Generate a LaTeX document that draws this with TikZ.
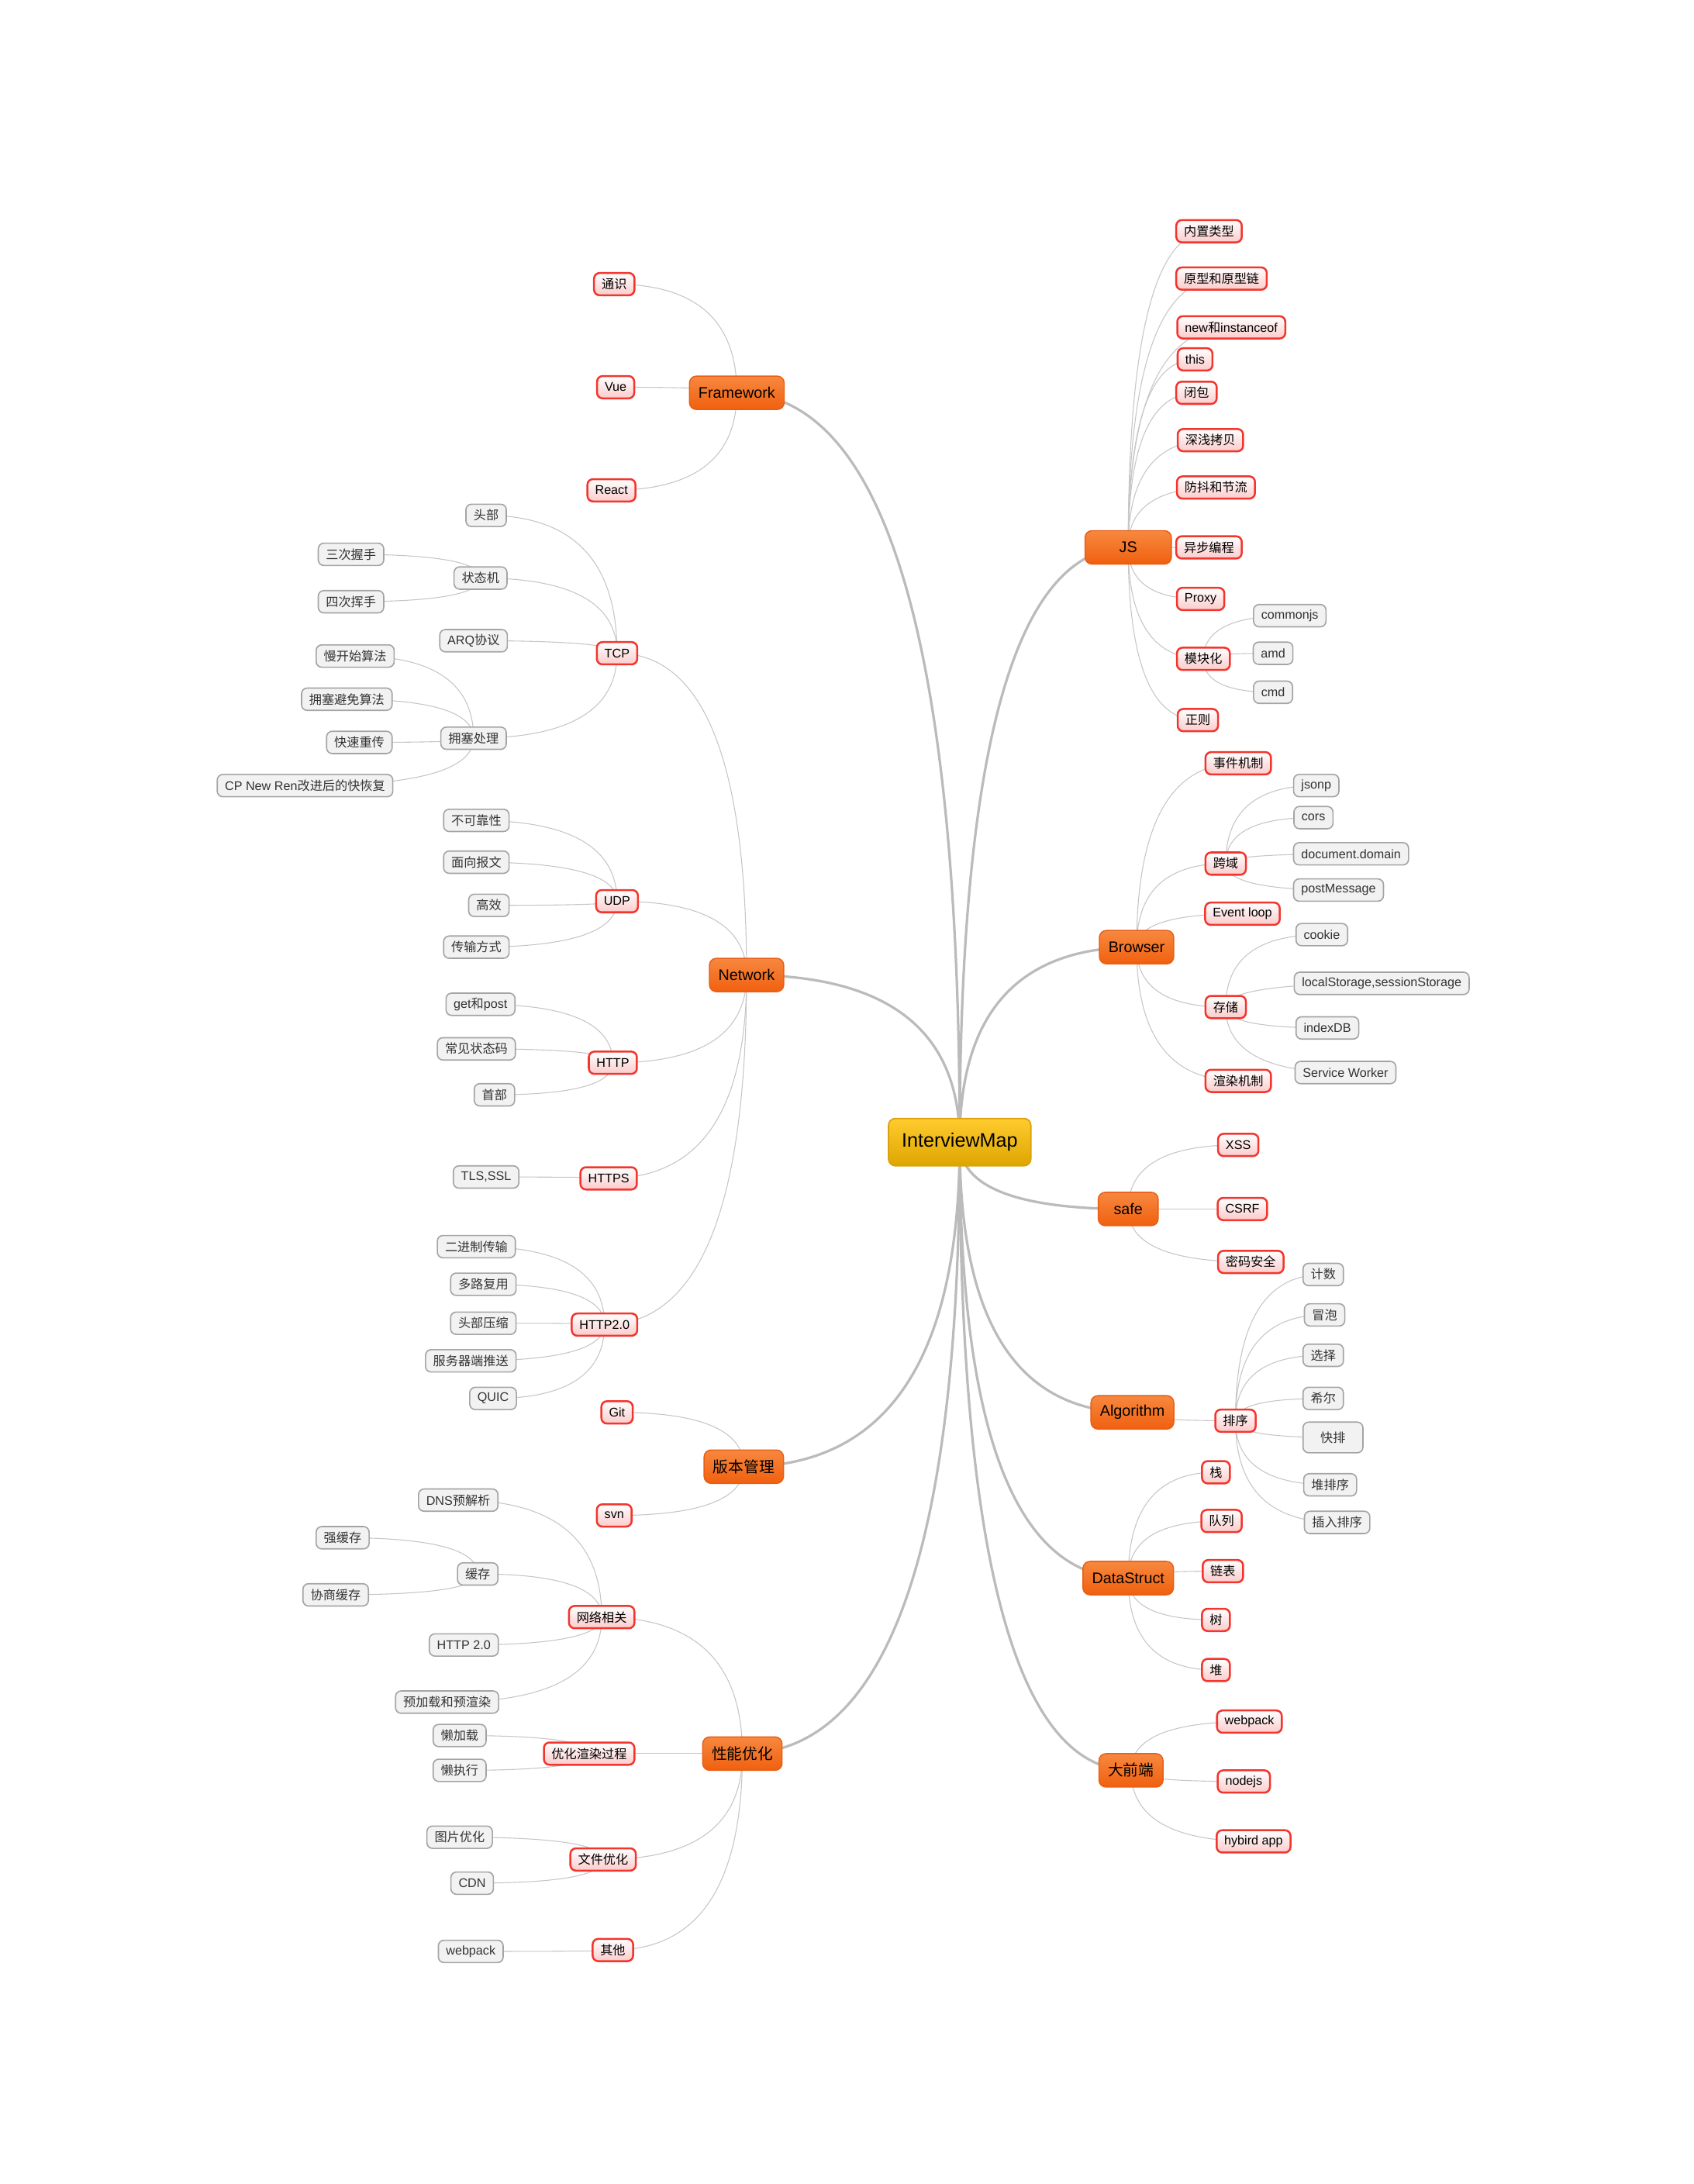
\documentclass[tikz,border=0pt]{standalone}
\usepackage{fontspec}
\setmainfont{Liberation Sans}
\newfontfamily\cjk{Noto Sans CJK SC}
\newcommand{\zh}[1]{{\cjk #1}}
\usetikzlibrary{backgrounds,calc}

\definecolor{roottop}{HTML}{FFCC2E}
\definecolor{rootbot}{HTML}{DDA500}
\definecolor{rootline}{HTML}{D9A20C}
\definecolor{topictop}{HTML}{F7883F}
\definecolor{topicbot}{HTML}{F0600F}
\definecolor{topicline}{HTML}{E85E14}
\definecolor{subline}{HTML}{F2362E}
\definecolor{subfill}{HTML}{FBCBCB}
\definecolor{leafline}{HTML}{A4A4A4}
\definecolor{leaffill}{HTML}{F2F2F2}
\definecolor{leaftext}{HTML}{333333}
\definecolor{trunkgray}{HTML}{BBBBBB}
\definecolor{twiggray}{HTML}{C6C6C6}

\tikzset{
  root/.style={draw=rootline, line width=1pt, rounded corners=5pt, top color=roottop, bottom color=rootbot, minimum height=34pt, inner xsep=9.5pt, font=\fontsize{14}{16}\selectfont},
  topic/.style={draw=topicline, line width=0.8pt, rounded corners=5pt, top color=topictop, bottom color=topicbot, minimum height=24pt, inner xsep=6.5pt, inner ysep=0pt, font=\fontsize{11}{13}\selectfont},
  sub/.style={draw=subline, line width=1.4pt, rounded corners=4pt, top color=white, bottom color=subfill, minimum height=16pt, inner xsep=5.5pt, inner ysep=0pt, font=\fontsize{9}{11}\selectfont},
  leaf/.style={draw=leafline, line width=0.9pt, rounded corners=4pt, fill=leaffill, text=leaftext, minimum height=16pt, inner xsep=5.5pt, inner ysep=0pt, font=\fontsize{9}{11}\selectfont},
  trunk/.style={draw=trunkgray, line width=1.8pt},
  twig/.style={draw=twiggray, line width=0.6pt},
  curvy/.style={to path={.. controls ($(\tikztostart)!2/3!(\tikztostart |- \tikztotarget)$)
      and ($(\tikztotarget.center)!2/3!(\tikztostart |- \tikztotarget)$) .. (\tikztotarget.center)}}
}

\begin{document}
\begin{tikzpicture}[x=1pt,y=-1pt]
\useasboundingbox (0,0) rectangle (1216,1568);
% centre
\node[root] (root) at (689,820) {InterviewMap};
% main topics
\node[topic] (fw) at (529,282) {Framework};
\node[topic, minimum width=62pt] (js) at (810,393) {JS};
\node[topic] (net) at (536,700) {Network};
\node[topic] (br) at (816,680) {Browser};
\node[topic, minimum width=43pt] (safe) at (810,868) {safe};
\node[topic] (algo) at (813,1014) {Algorithm};
\node[topic] (ver) at (534,1053) {\zh{版本管理}};
\node[topic] (ds) at (810,1133) {DataStruct};
\node[topic] (perf) at (533,1259) {\zh{性能优化}};
\node[topic] (fe) at (812,1271) {\zh{大前端}};
% Framework
\node[sub] (tongshi) at (441,204) {\zh{通识}};
\node[sub] (vue) at (442,278) {Vue};
\node[sub] (react) at (439,352) {React};
% JS
\node[sub] (neizhi) at (868,166) {\zh{内置类型}};
\node[sub] (yuanxing) at (877,200) {\zh{原型和原型链}};
\node[sub] (newinst) at (884,235) {new\zh{和}instanceof};
\node[sub] (thisk) at (858,258) {this};
\node[sub] (bibao) at (859,282) {\zh{闭包}};
\node[sub] (kaobei) at (869,316) {\zh{深浅拷贝}};
\node[sub] (fangdou) at (873,350) {\zh{防抖和节流}};
\node[sub] (yibu) at (868,393) {\zh{异步编程}};
\node[sub] (proxy) at (862,430) {Proxy};
\node[sub] (mokuai) at (864,473) {\zh{模块化}};
\node[sub] (zhengze) at (860,517) {\zh{正则}};
\node[leaf] (commonjs) at (926,442) {commonjs};
\node[leaf] (amd) at (914,469) {amd};
\node[leaf] (cmd) at (914,497) {cmd};
% Network
\node[sub] (tcp) at (443,469) {TCP};
\node[sub] (udp) at (443,647) {UDP};
\node[sub] (http) at (440,763) {HTTP};
\node[sub] (https) at (437,846) {HTTPS};
\node[sub] (httptwo) at (434,951) {HTTP2.0};
\node[leaf] (toubu) at (349,370) {\zh{头部}};
\node[leaf] (zhuangtai) at (345,415) {\zh{状态机}};
\node[leaf] (arq) at (340,460) {ARQ\zh{协议}};
\node[leaf] (yongse) at (340,530) {\zh{拥塞处理}};
\node[leaf] (woshou) at (252,398) {\zh{三次握手}};
\node[leaf] (huishou) at (252,432) {\zh{四次挥手}};
\node[leaf] (mankai) at (255,471) {\zh{慢开始算法}};
\node[leaf] (bimian) at (249,502) {\zh{拥塞避免算法}};
\node[leaf] (kuaichong) at (258,533) {\zh{快速重传}};
\node[leaf] (kuaihf) at (219,564) {CP New Ren\zh{改进后的快恢复}};
\node[leaf] (bukekao) at (342,589) {\zh{不可靠性}};
\node[leaf] (baowen) at (342,619) {\zh{面向报文}};
\node[leaf] (gaoxiao) at (351,650) {\zh{高效}};
\node[leaf] (chuanshu) at (342,680) {\zh{传输方式}};
\node[leaf] (getpost) at (345,721) {get\zh{和}post};
\node[leaf] (zhuangtaima) at (342,753) {\zh{常见状态码}};
\node[leaf] (shoubu) at (355,786) {\zh{首部}};
\node[leaf] (tls) at (349,845) {TLS,SSL};
\node[leaf] (erjinzhi) at (342,895) {\zh{二进制传输}};
\node[leaf] (duolu) at (347,922) {\zh{多路复用}};
\node[leaf] (yasuo) at (347,950) {\zh{头部压缩}};
\node[leaf] (tuisong) at (338,977) {\zh{服务器端推送}};
\node[leaf] (quic) at (354,1004) {QUIC};
% Browser
\node[sub] (shijian) at (889,548) {\zh{事件机制}};
\node[sub] (kuayu) at (880,620) {\zh{跨域}};
\node[sub] (evloop) at (892,656) {Event loop};
\node[sub] (cunchu) at (880,723) {\zh{存储}};
\node[sub] (xuanran) at (889,776) {\zh{渲染机制}};
\node[leaf] (jsonp) at (945,564) {jsonp};
\node[leaf] (cors) at (943,587) {cors};
\node[leaf] (docdomain) at (970,613) {document.domain};
\node[leaf] (postmsg) at (961,639) {postMessage};
\node[leaf] (cookie) at (949,671) {cookie};
\node[leaf] (localst) at (992,706) {localStorage,sessionStorage};
\node[leaf] (indexdb) at (953,738) {indexDB};
\node[leaf] (sworker) at (966,770) {Service Worker};
% safe
\node[sub] (xss) at (889,822) {XSS};
\node[sub] (csrf) at (892,868) {CSRF};
\node[sub] (mima) at (898,906) {\zh{密码安全}};
% Algorithm
\node[sub] (paixu) at (887,1020) {\zh{排序}};
\node[leaf] (jishu) at (950,915) {\zh{计数}};
\node[leaf] (maopao) at (951,944) {\zh{冒泡}};
\node[leaf] (xuanze) at (950,973) {\zh{选择}};
\node[leaf] (xier) at (950,1004) {\zh{希尔}};
\node[leaf, minimum width=43pt, minimum height=22pt] (kuaipai) at (957,1032) {\zh{快排}};
\node[leaf] (duipai) at (955,1066) {\zh{堆排序}};
\node[leaf] (charu) at (960,1093) {\zh{插入排序}};
% version control
\node[sub] (git) at (443,1014) {Git};
\node[sub] (svn) at (441,1088) {svn};
% DataStruct
\node[sub] (zhan) at (873,1057) {\zh{栈}};
\node[sub] (duilie) at (877,1092) {\zh{队列}};
\node[sub] (lianbiao) at (878,1128) {\zh{链表}};
\node[sub] (shu) at (873,1163) {\zh{树}};
\node[sub] (dui) at (873,1199) {\zh{堆}};
% performance
\node[sub] (wangluo) at (432,1161) {\zh{网络相关}};
\node[sub] (xuanrangy) at (423,1259) {\zh{优化渲染过程}};
\node[sub] (wenjian) at (433,1335) {\zh{文件优化}};
\node[sub] (qita) at (440,1400) {\zh{其他}};
\node[leaf] (dns) at (329,1077) {DNS\zh{预解析}};
\node[leaf] (huancun) at (343,1130) {\zh{缓存}};
\node[leaf] (httpv) at (333,1181) {HTTP 2.0};
\node[leaf] (yujiazai) at (321,1222) {\zh{预加载和预渲染}};
\node[leaf] (qiang) at (246,1104) {\zh{强缓存}};
\node[leaf] (xieshang) at (241,1145) {\zh{协商缓存}};
\node[leaf] (lanjiazai) at (330,1246) {\zh{懒加载}};
\node[leaf] (lanzhixing) at (330,1271) {\zh{懒执行}};
\node[leaf] (tupian) at (330,1319) {\zh{图片优化}};
\node[leaf] (cdn) at (339,1352) {CDN};
\node[leaf] (webpackq) at (338,1401) {webpack};
% front end
\node[sub] (webpack) at (897,1236) {webpack};
\node[sub] (nodejs) at (893,1279) {nodejs};
\node[sub] (hybird) at (900,1322) {hybird app};

\begin{pgfonlayer}{background}
\foreach \m in {fw,net,ver,perf,js,br,safe,algo,ds,fe} \draw[trunk] (root.center) to[curvy] (\m);
\foreach \c in {tongshi,vue,react} \draw[twig] (fw.center) to[curvy] (\c);
\foreach \c in {neizhi,yuanxing,newinst,thisk,bibao,kaobei,fangdou,yibu,proxy,mokuai,zhengze}
  \draw[twig] (js.center) to[curvy] (\c);
\foreach \c in {commonjs,amd,cmd} \draw[twig] (mokuai.center) to[curvy] (\c);
\foreach \c in {tcp,udp,http,https,httptwo} \draw[twig] (net.center) to[curvy] (\c);
\foreach \c in {toubu,zhuangtai,arq,yongse} \draw[twig] (tcp.center) to[curvy] (\c);
\foreach \c in {woshou,huishou} \draw[twig] (zhuangtai.center) to[curvy] (\c);
\foreach \c in {mankai,bimian,kuaichong,kuaihf} \draw[twig] (yongse.center) to[curvy] (\c);
\foreach \c in {bukekao,baowen,gaoxiao,chuanshu} \draw[twig] (udp.center) to[curvy] (\c);
\foreach \c in {getpost,zhuangtaima,shoubu} \draw[twig] (http.center) to[curvy] (\c);
\draw[twig] (https.center) to[curvy] (tls);
\foreach \c in {erjinzhi,duolu,yasuo,tuisong,quic} \draw[twig] (httptwo.center) to[curvy] (\c);
\foreach \c in {shijian,kuayu,evloop,cunchu,xuanran} \draw[twig] (br.center) to[curvy] (\c);
\foreach \c in {jsonp,cors,docdomain,postmsg} \draw[twig] (kuayu.center) to[curvy] (\c);
\foreach \c in {cookie,localst,indexdb,sworker} \draw[twig] (cunchu.center) to[curvy] (\c);
\foreach \c in {xss,csrf,mima} \draw[twig] (safe.center) to[curvy] (\c);
\draw[twig] (algo.center) to[curvy] (paixu);
\foreach \c in {jishu,maopao,xuanze,xier,kuaipai,duipai,charu} \draw[twig] (paixu.center) to[curvy] (\c);
\foreach \c in {git,svn} \draw[twig] (ver.center) to[curvy] (\c);
\foreach \c in {zhan,duilie,lianbiao,shu,dui} \draw[twig] (ds.center) to[curvy] (\c);
\foreach \c in {wangluo,xuanrangy,wenjian,qita} \draw[twig] (perf.center) to[curvy] (\c);
\foreach \c in {dns,huancun,httpv,yujiazai} \draw[twig] (wangluo.center) to[curvy] (\c);
\foreach \c in {qiang,xieshang} \draw[twig] (huancun.center) to[curvy] (\c);
\foreach \c in {lanjiazai,lanzhixing} \draw[twig] (xuanrangy.center) to[curvy] (\c);
\foreach \c in {tupian,cdn} \draw[twig] (wenjian.center) to[curvy] (\c);
\draw[twig] (qita.center) to[curvy] (webpackq);
\foreach \c in {webpack,nodejs,hybird} \draw[twig] (fe.center) to[curvy] (\c);
\end{pgfonlayer}
\end{tikzpicture}
\end{document}
